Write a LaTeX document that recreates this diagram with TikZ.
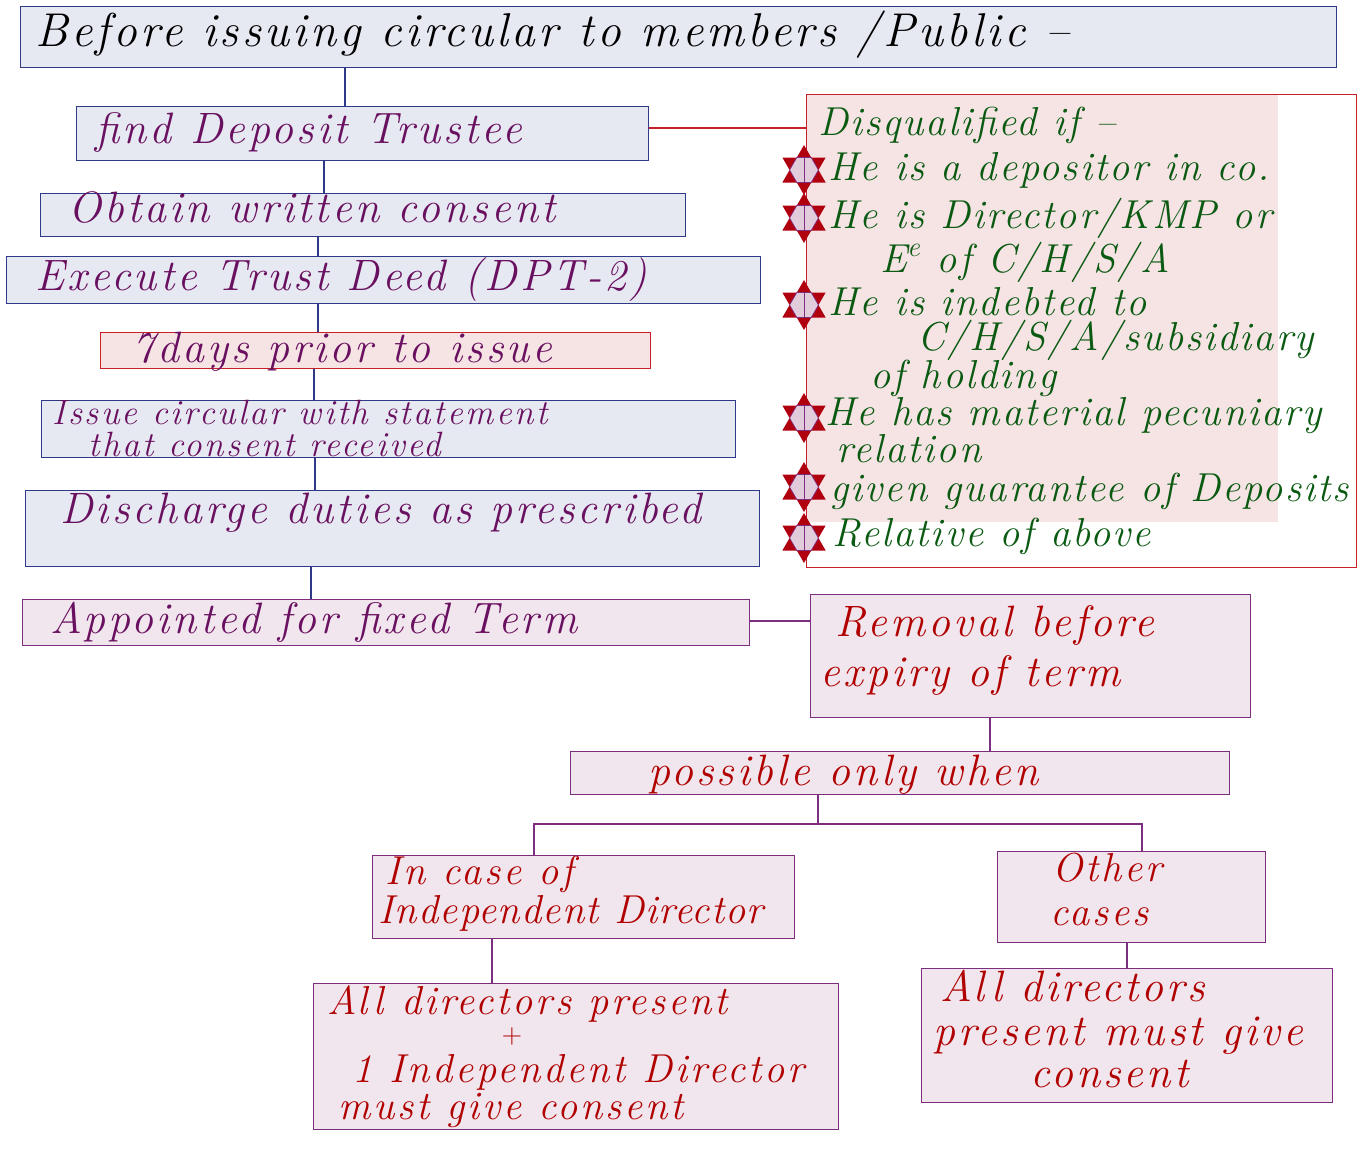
\documentclass[tikz,border=0pt]{standalone}
\usepackage{fontspec}
\setmainfont{Latin Modern Roman}[LetterSpace=7]
\usetikzlibrary{calc}
\definecolor{boxblue}{HTML}{E6E9F2}
\definecolor{lineblue}{HTML}{2E3A87}
\definecolor{boxpink}{HTML}{F6E4E4}
\definecolor{linered}{HTML}{C8202A}
\definecolor{boxlilac}{HTML}{F1E6EE}
\definecolor{linelilac}{HTML}{7E2E7E}
\definecolor{inkpurple}{HTML}{6A1060}
\definecolor{inkgreen}{HTML}{0A5A12}
\definecolor{inkred}{HTML}{B00000}
\definecolor{stardark}{HTML}{B00010}
\definecolor{starlight}{HTML}{E2CCDC}
\tikzset{
  boxb/.style={draw=lineblue, fill=boxblue, line width=0.8pt, inner sep=0pt, anchor=north west},
  boxp/.style={draw=linered, fill=boxpink, line width=0.8pt, inner sep=0pt, anchor=north west},
  boxl/.style={draw=linelilac, fill=boxlilac, line width=0.8pt, inner sep=0pt, anchor=north west},
  hand/.style={anchor=base west, inner sep=0pt, font=\fontsize{25}{30}\selectfont\itshape},
  handsm/.style={hand, font=\fontsize{23}{28}\selectfont\itshape},
  handg/.style={hand, text=inkgreen, font=\fontsize{23}{28}\selectfont\itshape\addfontfeature{LetterSpace=5}},
  linkb/.style={draw=lineblue, line width=0.7pt},
  linkl/.style={draw=linelilac, line width=0.7pt},
  hexstar/.pic={
    \fill[stardark] (90:25) -- (210:25) -- (330:25) -- cycle;
    \fill[stardark] (270:25) -- (30:25) -- (150:25) -- cycle;
    \filldraw[fill=starlight, draw=linelilac, line width=0.4pt] (0:14.4) -- (60:14.4) -- (120:14.4) -- (180:14.4) -- (240:14.4) -- (300:14.4) -- cycle;
    \draw[linelilac, line width=0.4pt] (90:12.5) -- (270:12.5);
  }
}
\begin{document}
\begin{tikzpicture}[x=0.02cm, y=-0.02cm]
\useasboundingbox (0,0) rectangle (1364,1166);
\node[boxb, minimum width=26.32cm, minimum height=1.22cm] (top) at (20,6) {};
\node[boxb, minimum width=11.44cm, minimum height=1.08cm] (find) at (76,106) {};
\node[boxb, minimum width=12.9cm, minimum height=0.86cm] (obtain) at (40,193) {};
\node[boxb, minimum width=15.08cm, minimum height=0.94cm] (execute) at (6,256) {};
\node[boxp, minimum width=11cm, minimum height=0.72cm] (days) at (100,332) {};
\node[boxb, minimum width=13.88cm, minimum height=1.14cm] (issue) at (41,400) {};
\node[boxb, minimum width=14.68cm, minimum height=1.52cm] (discharge) at (25,490) {};
\node[boxl, minimum width=14.54cm, minimum height=0.92cm] (appointed) at (22,599) {};
\node[draw=linered, line width=0.8pt, inner sep=0pt, anchor=north west, minimum width=11cm, minimum height=9.46cm] (disq) at (806,94) {};
\fill[boxpink] ($(disq.north west)+(1,1)$) rectangle ++(471,427);
\node[boxl, minimum width=8.8cm, minimum height=2.46cm] (removal) at (810,594) {};
\node[boxl, minimum width=13.18cm, minimum height=0.86cm] (possible) at (570,751) {};
\node[boxl, minimum width=8.44cm, minimum height=1.66cm] (incase) at (372,855) {};
\node[boxl, minimum width=5.36cm, minimum height=1.82cm] (other) at (997,851) {};
\node[boxl, minimum width=10.5cm, minimum height=2.92cm] (allleft) at (313,983) {};
\node[boxl, minimum width=8.22cm, minimum height=2.68cm] (allright) at (921,968) {};

\draw[linkb] (top.south -| 345,0) -- (find.north -| 345,0);
\draw[linkb] (find.south -| 324,0) -- (obtain.north -| 324,0);
\draw[linkb] (obtain.south -| 318,0) -- (execute.north -| 318,0);
\draw[linkb] (execute.south -| 318,0) -- (days.north -| 318,0);
\draw[linkb] (days.south -| 314,0) -- (issue.north -| 314,0);
\draw[linkb] (issue.south -| 315,0) -- (discharge.north -| 315,0);
\draw[linkb] (discharge.south -| 311,0) -- (appointed.north -| 311,0);
\draw[draw=linered, line width=0.8pt] (find.east |- 0,128) -- (disq.west |- 0,128);
\draw[linkl] (appointed.east |- 0,621) -- (removal.west |- 0,621);
\draw[linkl] (removal.south -| 990,0) -- (possible.north -| 990,0);
\coordinate (brL) at (534,824);
\coordinate (brR) at (1142,824);
\draw[linkl] (possible.south -| 818,0) -- (brL -| 818,0);
\draw[linkl] (incase.north -| brL) -- (brL) -- (brR) -- (other.north -| brR);
\draw[linkl] (incase.south -| 492,0) -- (allleft.north -| 492,0);
\draw[linkl] (other.south -| 1127,0) -- (allright.north -| 1127,0);

\node[hand, font=\fontsize{27}{32}\selectfont\itshape] (ttop) at (35,47) {Before issuing circular to members /Public --};
\node[hand, text=inkpurple] (tfind) at (95,143) {find Deposit Trustee};
\node[hand, text=inkpurple] (tobtain) at (68,222) {Obtain written consent};
\node[hand, text=inkpurple] (texecute) at (35,290) {Execute Trust Deed (DPT-2)};
\node[hand, text=inkpurple] (tdays) at (132,362) {7days prior to issue};
\node[hand, text=inkpurple, font=\fontsize{20}{24}\selectfont\itshape] (tissueA) at (52,424) {Issue circular with statement};
\node[hand, text=inkpurple, font=\fontsize{20}{24}\selectfont\itshape] (tissueB) at (88,456) {that consent received};
\node[hand, text=inkpurple] (tdischarge) at (60,523) {Discharge duties as prescribed};
\node[hand, text=inkpurple] (tappointed) at (50,633) {Appointed for fixed Term};

\node[handg] (dq0) at (818,135) {Disqualified if --};
\node[handg] (dq1) at (828,180) {He is a depositor in co.};
\node[handg] (dq2) at (828,228) {He is Director/KMP or};
\node[handg] (dq3) at (880,272) {E\textsuperscript{e} of C/H/S/A};
\node[handg] (dq4) at (828,315) {He is indebted to};
\node[handg] (dq5) at (917,350) {C/H/S/A/subsidiary};
\node[handg] (dq6) at (870,388) {of holding};
\node[handg] (dq7) at (825,425) {He has material pecuniary};
\node[handg] (dq8) at (836,462) {relation};
\node[handg] (dq9) at (830,501) {given guarantee of Deposits};
\node[handg] (dq10) at (832,546) {Relative of above};
\foreach \y in {170,218,305,418,487,538} \pic at (804,\y) {hexstar};

\node[hand, text=inkred] (tremA) at (835,636) {Removal before};
\node[hand, text=inkred] (tremB) at (820,686) {expiry of term};
\node[hand, text=inkred] (tposs) at (648,785) {possible only when};
\node[handsm, text=inkred] (tcaseA) at (385,884) {In case of};
\node[handsm, text=inkred, font=\fontsize{23}{28}\selectfont\itshape\addfontfeature{LetterSpace=3}] (tcaseB) at (378,923) {Independent Director};
\node[handsm, text=inkred, anchor=base] (tothA) at (1107,881) {Other};
\node[handsm, text=inkred, anchor=base] (tothB) at (1100,925) {cases};
\node[handsm, text=inkred] (tallA) at (327,1014) {All directors present};
\node[hand, text=inkred, anchor=center, font=\fontsize{16}{18}\selectfont] (tplus) at (512,1036) {+};
\node[handsm, text=inkred] (tallB) at (352,1082) {1 Independent Director};
\node[handsm, text=inkred] (tallC) at (338,1119) {must give consent};
\node[hand, text=inkred] (tallD) at (940,1001) {All directors};
\node[hand, text=inkred] (tallE) at (933,1045) {present must give};
\node[hand, text=inkred] (tallF) at (1030,1087) {consent};
\end{tikzpicture}
\end{document}
